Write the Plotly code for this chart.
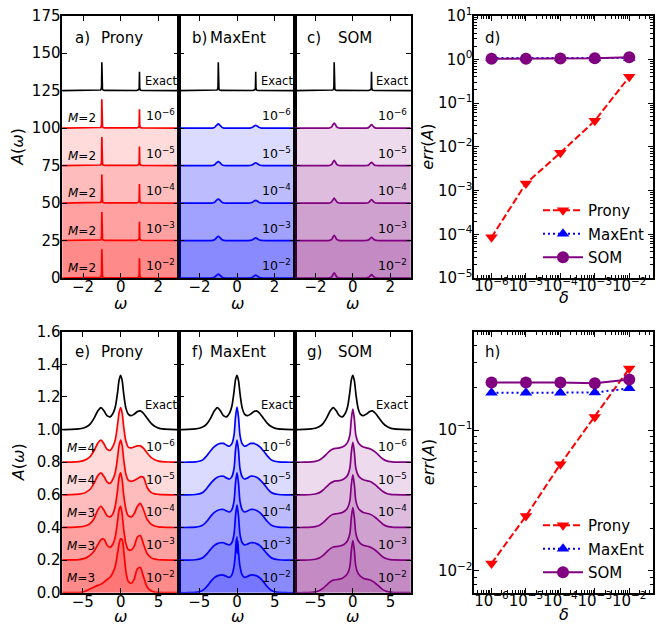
import plotly.graph_objects as go

W, H = 664, 625

# ---------------- data ----------------
delta_vals = [1e-6, 1e-5, 1e-4, 1e-3, 1e-2]
delta_labels = ["10<sup>−6</sup>", "10<sup>−5</sup>", "10<sup>−4</sup>", "10<sup>−3</sup>", "10<sup>−2</sup>"]
top_offsets = [100, 75, 50, 25, 0]
top_exact_offset = 125
bot_offsets = [0.8, 0.6, 0.4, 0.2, 0.0]
bot_exact_offset = 1.0
top_M = [2, 2, 2, 2, 2]
bot_M = [4, 4, 3, 3, 3]

# top row: two delta-like peaks at omega = -1, +1
om_spike = [-3.2, -1.15, -1.07, -1.035, -1.015, -1.0, -0.985, -0.965, -0.93, -0.85,
            0.85, 0.93, 0.965, 0.985, 1.0, 1.015, 1.035, 1.07, 1.15, 3.2]
A_top_exact = [0, 0.15, 0.4, 1.0, 2.8, 19.0, 2.8, 1.0, 0.4, 0.15, 0.1, 0.27, 0.7, 1.9, 12.6, 1.9, 0.7, 0.27, 0.1, 0]
A_top_prony_6 = [0, 0.15, 0.4, 1.0, 2.9, 19.2, 2.9, 1.0, 0.4, 0.15, 0.1, 0.27, 0.7, 1.9, 12.5, 1.9, 0.7, 0.27, 0.1, 0]
A_top_prony_5 = [0, 0.15, 0.4, 1.0, 2.8, 19.0, 2.8, 1.0, 0.4, 0.15, 0.1, 0.27, 0.7, 1.9, 12.8, 1.9, 0.7, 0.27, 0.1, 0]
A_top_prony_4 = [0, 0.15, 0.4, 1.0, 2.8, 19.0, 2.8, 1.0, 0.4, 0.15, 0.1, 0.27, 0.7, 1.9, 12.7, 1.9, 0.7, 0.27, 0.1, 0]
A_top_prony_3 = [0, 0.15, 0.4, 1.0, 2.8, 19.1, 2.8, 1.0, 0.4, 0.15, 0.1, 0.27, 0.7, 1.9, 12.6, 1.9, 0.7, 0.27, 0.1, 0]
A_top_prony_2 = [0, 0.15, 0.4, 1.0, 2.8, 19.1, 2.8, 1.0, 0.4, 0.15, 0.1, 0.27, 0.7, 2.0, 13.1, 2.0, 0.7, 0.27, 0.1, 0]

om_top_me = [-3.2, -1.5, -1.3, -1.2, -1.1, -1.0, -0.9, -0.8, -0.7, -0.5,
             0.5, 0.7, 0.8, 0.9, 1.0, 1.1, 1.2, 1.3, 1.5, 3.0]
A_top_me_6 = [0, 0, 0.05, 0.5, 1.8, 2.8, 1.8, 0.5, 0.05, 0, 0, 0.05, 0.35, 1.2, 1.9, 1.2, 0.35, 0.05, 0, 0]
A_top_me_5 = [0, 0, 0.05, 0.5, 1.8, 2.7, 1.8, 0.5, 0.05, 0, 0, 0.05, 0.35, 1.2, 1.9, 1.2, 0.35, 0.05, 0, 0]
A_top_me_4 = [0, 0, 0.05, 0.5, 1.8, 2.7, 1.8, 0.5, 0.05, 0, 0, 0.05, 0.35, 1.2, 1.8, 1.2, 0.35, 0.05, 0, 0]
A_top_me_3 = [0, 0, 0.05, 0.5, 1.8, 2.8, 1.8, 0.5, 0.05, 0, 0, 0.05, 0.35, 1.1, 1.8, 1.1, 0.35, 0.05, 0, 0]
A_top_me_2 = [0, 0, 0.05, 0.5, 1.7, 2.6, 1.7, 0.5, 0.05, 0, 0, 0.05, 0.35, 1.2, 1.9, 1.2, 0.35, 0.05, 0, 0]

om_top_som = [-3.2, -1.4, -1.25, -1.15, -1.07, -1.0, -0.93, -0.85, -0.75, -0.6,
              0.6, 0.75, 0.85, 0.93, 1.0, 1.07, 1.15, 1.25, 1.4, 3.2]
A_top_som_6 = [0, 0, 0.05, 0.6, 2.2, 3.4, 2.2, 0.6, 0.05, 0, 0, 0.05, 0.45, 1.5, 2.3, 1.5, 0.45, 0.05, 0, 0]
A_top_som_5 = [0, 0, 0.05, 0.6, 2.2, 3.5, 2.2, 0.6, 0.05, 0, 0, 0.05, 0.45, 1.5, 2.2, 1.5, 0.45, 0.05, 0, 0]
A_top_som_4 = [0, 0, 0.05, 0.6, 2.1, 3.3, 2.1, 0.6, 0.05, 0, 0, 0.05, 0.45, 1.5, 2.3, 1.5, 0.45, 0.05, 0, 0]
A_top_som_3 = [0, 0, 0.05, 0.6, 2.2, 3.4, 2.2, 0.6, 0.05, 0, 0, 0.05, 0.45, 1.4, 2.2, 1.4, 0.45, 0.05, 0, 0]
A_top_som_2 = [0, 0, 0.05, 0.6, 2.2, 3.4, 2.2, 0.6, 0.05, 0, 0, 0.05, 0.45, 1.5, 2.3, 1.5, 0.45, 0.05, 0, 0]

# bottom row: three-peak spectrum
om_bot = [-7.8, -6.5, -5.5, -5.0, -4.5, -4.0, -3.5, -3.0, -2.6, -2.2, -1.8, -1.4, -1.0, -0.7, -0.4, -0.2, 0.0,
          0.2, 0.4, 0.7, 1.0, 1.4, 1.8, 2.2, 2.6, 3.0, 3.5, 4.0, 4.5, 5.0, 5.5, 6.5, 7.8]
A_bot_exact = [0.000, 0.001, 0.004, 0.008, 0.017, 0.035, 0.070, 0.115, 0.135, 0.115, 0.085, 0.078, 0.100, 0.140, 0.230, 0.305, 0.333,
               0.300, 0.220, 0.130, 0.095, 0.085, 0.095, 0.110, 0.115, 0.100, 0.070, 0.040, 0.020, 0.009, 0.004, 0.001, 0.000]
A_bot_prony_6 = [0.000, 0.001, 0.004, 0.008, 0.018, 0.036, 0.072, 0.118, 0.135, 0.112, 0.080, 0.072, 0.098, 0.140, 0.232, 0.305, 0.335,
                 0.300, 0.218, 0.128, 0.093, 0.088, 0.094, 0.100, 0.100, 0.086, 0.056, 0.030, 0.015, 0.007, 0.003, 0.001, 0.000]
A_bot_prony_5 = [0.000, 0.001, 0.004, 0.008, 0.018, 0.036, 0.072, 0.118, 0.135, 0.112, 0.080, 0.070, 0.098, 0.140, 0.232, 0.305, 0.335,
                 0.300, 0.218, 0.125, 0.090, 0.082, 0.088, 0.098, 0.110, 0.108, 0.045, 0.015, 0.006, 0.003, 0.001, 0.000, 0.000]
A_bot_prony_4 = [0.000, 0.001, 0.003, 0.006, 0.012, 0.025, 0.055, 0.108, 0.130, 0.105, 0.072, 0.065, 0.085, 0.135, 0.232, 0.308, 0.335,
                 0.290, 0.200, 0.110, 0.072, 0.065, 0.085, 0.128, 0.147, 0.110, 0.050, 0.020, 0.009, 0.004, 0.002, 0.000, 0.000]
A_bot_prony_3 = [0.000, 0.001, 0.003, 0.007, 0.015, 0.030, 0.055, 0.095, 0.125, 0.128, 0.092, 0.078, 0.100, 0.145, 0.240, 0.310, 0.330,
                 0.280, 0.190, 0.100, 0.065, 0.062, 0.085, 0.140, 0.150, 0.100, 0.040, 0.015, 0.006, 0.002, 0.001, 0.000, 0.000]
A_bot_prony_2 = [0.000, 0.000, 0.001, 0.004, 0.012, 0.024, 0.035, 0.045, 0.052, 0.065, 0.080, 0.095, 0.125, 0.165, 0.245, 0.300, 0.330,
                 0.325, 0.260, 0.130, 0.070, 0.058, 0.085, 0.145, 0.155, 0.100, 0.035, 0.012, 0.004, 0.002, 0.001, 0.000, 0.000]
A_bot_me_6 = [0.000, 0.000, 0.002, 0.006, 0.016, 0.040, 0.070, 0.095, 0.108, 0.115, 0.115, 0.105, 0.098, 0.112, 0.165, 0.275, 0.338,
              0.275, 0.165, 0.112, 0.098, 0.105, 0.115, 0.115, 0.108, 0.095, 0.070, 0.040, 0.016, 0.006, 0.002, 0.000, 0.000]
A_bot_me_5 = [0.000, 0.000, 0.002, 0.006, 0.016, 0.040, 0.070, 0.094, 0.107, 0.114, 0.114, 0.104, 0.097, 0.110, 0.160, 0.272, 0.335,
              0.272, 0.160, 0.110, 0.097, 0.104, 0.114, 0.114, 0.107, 0.094, 0.070, 0.040, 0.016, 0.006, 0.002, 0.000, 0.000]
A_bot_me_4 = [0.000, 0.000, 0.002, 0.006, 0.016, 0.038, 0.068, 0.092, 0.104, 0.110, 0.110, 0.101, 0.095, 0.108, 0.160, 0.272, 0.335,
              0.272, 0.160, 0.108, 0.095, 0.101, 0.110, 0.110, 0.104, 0.092, 0.068, 0.038, 0.016, 0.006, 0.002, 0.000, 0.000]
A_bot_me_3 = [0.000, 0.000, 0.002, 0.006, 0.016, 0.038, 0.066, 0.090, 0.101, 0.106, 0.106, 0.098, 0.093, 0.106, 0.158, 0.270, 0.337,
              0.270, 0.158, 0.106, 0.093, 0.098, 0.106, 0.106, 0.101, 0.090, 0.066, 0.038, 0.016, 0.006, 0.002, 0.000, 0.000]
om_bot_me_2 = [-7.8, -6.5, -5.5, -5.0, -4.5, -4.0, -3.5, -3.0, -2.6, -2.2, -1.8, -1.4, -1.0, -0.7, -0.4, -0.2, -0.1, -0.05, 0.0,
               0.05, 0.1, 0.2, 0.4, 0.7, 1.0, 1.4, 1.8, 2.2, 2.6, 3.0, 3.5, 4.0, 4.5, 5.0, 5.5, 6.5, 7.8]
A_bot_me_2 = [0.000, 0.000, 0.002, 0.006, 0.016, 0.038, 0.068, 0.092, 0.103, 0.108, 0.108, 0.100, 0.094, 0.108, 0.160, 0.250, 0.330, 0.250, 0.343,
              0.240, 0.320, 0.250, 0.160, 0.108, 0.094, 0.100, 0.108, 0.108, 0.103, 0.092, 0.068, 0.038, 0.016, 0.006, 0.002, 0.000, 0.000]
A_bot_som_6 = [0.000, 0.000, 0.002, 0.005, 0.012, 0.028, 0.050, 0.072, 0.082, 0.085, 0.088, 0.093, 0.105, 0.122, 0.165, 0.265, 0.325,
               0.265, 0.165, 0.122, 0.105, 0.093, 0.088, 0.083, 0.075, 0.062, 0.040, 0.020, 0.008, 0.003, 0.001, 0.000, 0.000]
A_bot_som_5 = [0.000, 0.000, 0.002, 0.005, 0.012, 0.028, 0.050, 0.071, 0.081, 0.085, 0.087, 0.092, 0.104, 0.120, 0.163, 0.262, 0.322,
               0.262, 0.163, 0.120, 0.104, 0.092, 0.087, 0.083, 0.074, 0.061, 0.040, 0.020, 0.008, 0.003, 0.001, 0.000, 0.000]
A_bot_som_4 = [0.000, 0.000, 0.002, 0.005, 0.012, 0.028, 0.050, 0.071, 0.081, 0.084, 0.087, 0.092, 0.104, 0.120, 0.163, 0.262, 0.322,
               0.262, 0.163, 0.120, 0.104, 0.092, 0.087, 0.082, 0.074, 0.061, 0.040, 0.020, 0.008, 0.003, 0.001, 0.000, 0.000]
A_bot_som_3 = [0.000, 0.000, 0.002, 0.005, 0.012, 0.027, 0.049, 0.070, 0.080, 0.083, 0.086, 0.091, 0.103, 0.120, 0.163, 0.262, 0.322,
               0.262, 0.163, 0.120, 0.103, 0.091, 0.086, 0.081, 0.073, 0.060, 0.039, 0.019, 0.008, 0.003, 0.001, 0.000, 0.000]
A_bot_som_2 = [0.000, 0.000, 0.002, 0.005, 0.012, 0.026, 0.047, 0.067, 0.077, 0.080, 0.083, 0.089, 0.101, 0.118, 0.160, 0.260, 0.320,
               0.260, 0.160, 0.118, 0.101, 0.089, 0.083, 0.079, 0.071, 0.058, 0.038, 0.019, 0.008, 0.003, 0.001, 0.000, 0.000]

# error vs noise
err_d_prony = [8.5e-5, 1.46e-3, 7.3e-3, 0.0395, 0.40]
err_d_maxent = [1.08, 1.08, 1.07, 1.07, 1.08]
err_d_som = [1.03, 1.03, 1.05, 1.06, 1.12]
err_h_prony = [0.0113, 0.0245, 0.0573, 0.124, 0.274]
err_h_maxent = [0.184, 0.184, 0.184, 0.185, 0.198]
err_h_som = [0.218, 0.218, 0.218, 0.215, 0.229]

top_sets = {
    "prony": (om_spike, [A_top_prony_6, A_top_prony_5, A_top_prony_4, A_top_prony_3, A_top_prony_2]),
    "maxent": (om_top_me, [A_top_me_6, A_top_me_5, A_top_me_4, A_top_me_3, A_top_me_2]),
    "som": (om_top_som, [A_top_som_6, A_top_som_5, A_top_som_4, A_top_som_3, A_top_som_2]),
}
bot_sets = {
    "prony": ([om_bot] * 5, [A_bot_prony_6, A_bot_prony_5, A_bot_prony_4, A_bot_prony_3, A_bot_prony_2]),
    "maxent": ([om_bot, om_bot, om_bot, om_bot, om_bot_me_2], [A_bot_me_6, A_bot_me_5, A_bot_me_4, A_bot_me_3, A_bot_me_2]),
    "som": ([om_bot] * 5, [A_bot_som_6, A_bot_som_5, A_bot_som_4, A_bot_som_3, A_bot_som_2]),
}

# ---------------- styles ----------------
FONT = "DejaVu Sans"
line_col = {"prony": "rgb(255,0,0)", "maxent": "rgb(0,0,255)", "som": "rgb(128,0,128)"}
fill_col = {"prony": "rgba(255,0,0,0.14)", "maxent": "rgba(0,0,255,0.14)", "som": "rgba(128,0,128,0.14)"}
methods = ["prony", "maxent", "som"]
names = {"prony": "Prony", "maxent": "MaxEnt", "som": "SOM"}

def PX(x):
    return x / W

def PY(y):
    return 1 - y / H

XD = [(62.3, 179), (179, 295), (295, 410.7), (474.3, 653)]
YT = (15.7, 278)
YB = (331.7, 592.7)

fig = go.Figure()

def ax_id(i):
    return "" if i == 1 else str(i)

# spectra panels
for row in range(2):
    for j, m in enumerate(methods):
        idx = row * 4 + j + 1
        xa, ya = "x" + ax_id(idx), "y" + ax_id(idx)
        if row == 0:
            om, curves = top_sets[m]
            oms = [om] * 5
            offs = top_offsets
            shape = "linear" if m == "prony" else "spline"
        else:
            oms, curves = bot_sets[m]
            offs = bot_offsets
            shape = "spline"
        for k in range(5):
            fig.add_trace(go.Scatter(
                x=oms[k], y=[v + offs[k] for v in curves[k]], mode="lines",
                line=dict(color=line_col[m], width=1.7, shape=shape, smoothing=0.8),
                fill="tozeroy", fillcolor=fill_col[m], showlegend=False,
                hoverinfo="skip", xaxis=xa, yaxis=ya))
        if row == 0:
            fig.add_trace(go.Scatter(
                x=om_spike, y=[v + top_exact_offset for v in A_top_exact], mode="lines",
                line=dict(color="black", width=1.6), showlegend=False, xaxis=xa, yaxis=ya))
        else:
            fig.add_trace(go.Scatter(
                x=om_bot, y=[v + bot_exact_offset for v in A_bot_exact], mode="lines",
                line=dict(color="black", width=1.7, shape="spline", smoothing=0.8),
                showlegend=False, xaxis=xa, yaxis=ya))

# error panels
err_sets = [
    (4, "legend", [err_d_prony, err_d_maxent, err_d_som]),
    (8, "legend2", [err_h_prony, err_h_maxent, err_h_som]),
]
msym = {"prony": "triangle-down", "maxent": "triangle-up", "som": "circle"}
mdash = {"prony": "7px,3px", "maxent": "2px,3px", "som": "solid"}
msize = {"prony": 11, "maxent": 11, "som": 12}
for idx, leg, vals in err_sets:
    for m, v in zip(methods, vals):
        fig.add_trace(go.Scatter(
            x=delta_vals, y=v, mode="lines+markers", name=names[m],
            line=dict(color=line_col[m], width=2, dash=mdash[m]),
            marker=dict(symbol=msym[m], size=msize[m], color=line_col[m]),
            legend=leg, legendgroup=leg + m, showlegend=True,
            xaxis="x" + ax_id(idx), yaxis="y" + ax_id(idx)))

# ---------------- axes ----------------
base = dict(showline=True, linecolor="black", linewidth=1.6, mirror="ticks",
            ticks="inside", ticklen=5, tickwidth=1.2, tickcolor="black",
            showgrid=False, zeroline=False, tickfont=dict(family=FONT, size=15, color="black"))

minor_log = [mm * 10.0 ** e for e in range(-8, 2) for mm in range(2, 10)]
layout_axes = {}
for row in range(2):
    yd = YT if row == 0 else YB
    for j in range(4):
        idx = row * 4 + j + 1
        xk, yk = "xaxis" + ax_id(idx), "yaxis" + ax_id(idx)
        xdom = [PX(XD[j][0]), PX(XD[j][1])]
        ydom = [PY(yd[1]), PY(yd[0])]
        xa = dict(base, domain=xdom, anchor="y" + ax_id(idx), ticklabelstandoff=-6, tickangle=0)
        ya = dict(base, domain=ydom, anchor="x" + ax_id(idx), ticklabelstandoff=-3)
        if j < 3:
            if row == 0:
                xa.update(range=[-3.1, 3.1], tickvals=[-2, 0, 2])
                ya.update(range=[0, 175], tickvals=[0, 25, 50, 75, 100, 125, 150, 175])
            else:
                xa.update(range=[-7.7, 7.7], tickvals=[-5, 0, 5])
                ya.update(range=[0, 1.6], tickvals=[0, 0.2, 0.4, 0.6, 0.8, 1.0, 1.2, 1.4, 1.6], tickformat=".1f")
            if j > 0:
                ya.update(showticklabels=False)
        else:
            xa.update(type="log", range=[-6.5, -1.31], tickvals=delta_vals, ticktext=delta_labels,
                      ticklabelstandoff=-7,
                      minor=dict(ticks="inside", ticklen=3, tickwidth=1, tickcolor="black",
                                 tickmode="array", tickvals=minor_log, showgrid=False))
            if row == 0:
                ya.update(type="log", range=[-5, 1],
                          tickvals=[1e-5, 1e-4, 1e-3, 1e-2, 1e-1, 1, 10],
                          ticktext=["10<sup>−5</sup>", "10<sup>−4</sup>", "10<sup>−3</sup>", "10<sup>−2</sup>",
                                    "10<sup>−1</sup>", "10<sup>0</sup>", "10<sup>1</sup>"])
            else:
                ya.update(type="log", range=[-2.155, -0.301], tickvals=[1e-2, 1e-1],
                          ticktext=["10<sup>−2</sup>", "10<sup>−1</sup>"])
            ya.update(minor=dict(ticks="inside", ticklen=3, tickwidth=1, tickcolor="black",
                                 tickmode="array", tickvals=minor_log, showgrid=False))
        layout_axes[xk] = xa
        layout_axes[yk] = ya

fig.update_layout(**layout_axes)

# ---------------- annotations ----------------
ann = []

def txt(x, y, s, size, xanchor="left", yanchor="middle", angle=0):
    ann.append(dict(x=PX(x), y=PY(y), xref="paper", yref="paper", text=s, showarrow=False,
                    xanchor=xanchor, yanchor=yanchor, textangle=angle,
                    font=dict(family=FONT, size=size, color="black")))

letters = [["a)", "b)", "c)", "d)"], ["e)", "f)", "g)", "h)"]]
letter_x = [72.7, 190, 305, 482.7]
name_x = [99.3, 208.3, 336]
label_y = [38.3, 352.3]
for row in range(2):
    for j in range(4):
        txt(letter_x[j], label_y[row], letters[row][j], 15)
    for j, m in enumerate(methods):
        txt(name_x[j], label_y[row], names[m], 15)

# exact labels, noise labels, model orders
for j in range(3):
    R = XD[j][1]
    txt(R - 0.5, 81, "Exact", 11.5, xanchor="right")
    txt(R - 0.5, 405, "Exact", 11.5, xanchor="right")
    for k in range(5):
        yt = YT[1] - top_offsets[k] * (YT[1] - YT[0]) / 175.0
        yb = YB[1] - bot_offsets[k] * (YB[1] - YB[0]) / 1.6
        txt(R - 2, yt - 13, delta_labels[k], 12.5, xanchor="right")
        txt(R - 2, yb - 16, delta_labels[k], 12.5, xanchor="right")
        if j == 0:
            txt(65.5, yt - 10, "<i>M</i>=%d" % top_M[k], 12, xanchor="left")
            txt(64.5, yb - 14.5, "<i>M</i>=%d" % bot_M[k], 12, xanchor="left")

# axis titles
for yc in [(YT[0] + YT[1]) / 2, (YB[0] + YB[1]) / 2]:
    txt(18, yc, "<i>A</i>(<i>ω</i>)", 16, xanchor="center", angle=-90)
    txt(428, yc, "<i>err</i>(<i>A</i>)", 16, xanchor="center", angle=-90)
for j in range(3):
    xc = (XD[j][0] + XD[j][1]) / 2
    txt(xc, 303, "<i>ω</i>", 16, xanchor="center")
    txt(xc, 616, "<i>ω</i>", 16, xanchor="center")
xc = (XD[3][0] + XD[3][1]) / 2
txt(xc, 297, "<i>δ</i>", 16, xanchor="center")
txt(xc, 614, "<i>δ</i>", 16, xanchor="center")

leg_style = dict(xanchor="left", yanchor="top", bgcolor="rgba(0,0,0,0)", borderwidth=0,
                 font=dict(family=FONT, size=15, color="black"), tracegroupgap=1, itemwidth=40)
fig.update_layout(
    width=W, height=H, autosize=False,
    margin=dict(l=0, r=0, t=0, b=0, autoexpand=False),
    paper_bgcolor="white", plot_bgcolor="rgba(0,0,0,0)",
    font=dict(family=FONT, size=15, color="black"),
    annotations=ann,
    legend=dict(leg_style, x=PX(538), y=PY(194)),
    legend2=dict(leg_style, x=PX(538), y=PY(509)),
)

fig.write_html("out.html", config={"displayModeBar": False},
               post_script="document.body.style.margin='0px';document.body.style.padding='0px';document.body.style.overflow='hidden';")
